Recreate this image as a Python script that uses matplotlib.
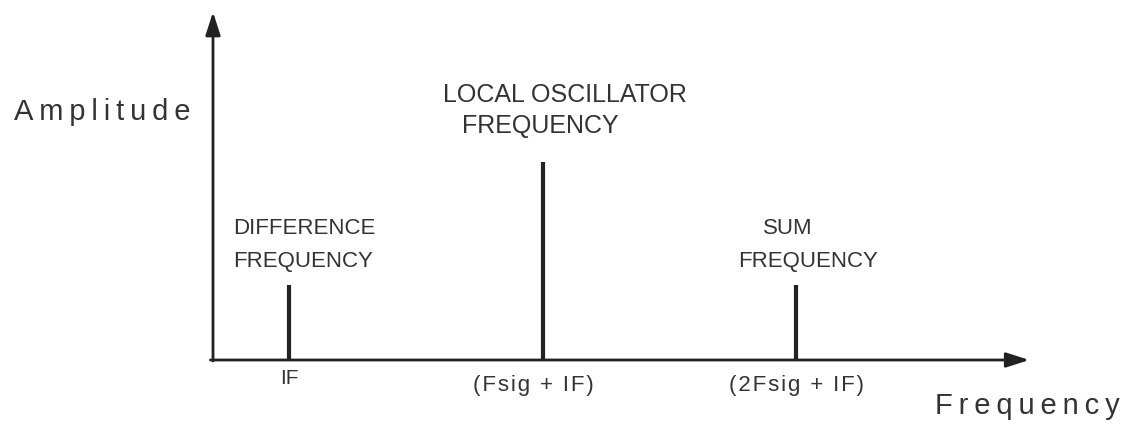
import matplotlib.pyplot as plt

# Spectrum of a mixer output (positions in arbitrary frequency units)
freqs = [0.3, 1.3, 2.3]
amps = [0.75, 1.98, 0.75]
tick_labels = ['IF', '(Fsig + IF)', '(2Fsig + IF)']

plt.rcParams['font.family'] = ['Liberation Sans', 'DejaVu Sans']


def spaced(s, gap='\u2009'):
    # crude letter spacing, the scanned original is quite loose
    return gap.join(s)


fig = plt.figure(figsize=(11.23, 4.25), dpi=100)
ax = fig.add_axes([213 / 1123, 65 / 425, 910 / 1123, 360 / 425])
ax.set_xlim(0, 910 / 253.5)
ax.set_ylim(0, 3.6)
ax.axis('off')

ink = '#222222'
txt = '#333333'

# axes with arrow heads
ax.annotate('', xy=(0, 3.48), xytext=(0, -0.01),
            arrowprops=dict(arrowstyle='-|>,head_length=1.4,head_width=0.45',
                            color=ink, lw=2, shrinkA=0, shrinkB=0))
ax.annotate('', xy=(3.22, 0), xytext=(-0.01, 0),
            arrowprops=dict(arrowstyle='-|>,head_length=1.4,head_width=0.45',
                            color=ink, lw=2, shrinkA=0, shrinkB=0))

# spectral lines
ax.vlines(freqs, 0, amps, color=ink, lw=3)

# tick labels under the lines
ax.text(freqs[0], -0.18, tick_labels[0], ha='center', va='center', fontsize=15, color=txt)
ax.text(freqs[1] - 0.035, -0.26, spaced(tick_labels[1], '\u200a'), ha='center', va='center',
        fontsize=16, color=txt)
ax.text(freqs[2], -0.26, spaced(tick_labels[2], '\u200a'), ha='center', va='center',
        fontsize=16, color=txt)

# peak annotations
ax.text(freqs[0] - 0.22, amps[0] + 0.57, 'DIFFERENCE', ha='left', va='center',
        fontsize=16, color=txt)
ax.text(freqs[0] - 0.22, amps[0] + 0.24, 'FREQUENCY', ha='left', va='center',
        fontsize=16, color=txt)
ax.text(freqs[1] + 0.09, amps[1] + 0.67, 'LOCAL OSCILLATOR', ha='center', va='center',
        fontsize=18, color=txt)
ax.text(freqs[1] - 0.01, amps[1] + 0.36, 'FREQUENCY', ha='center', va='center',
        fontsize=18, color=txt)
ax.text(freqs[2] - 0.13, amps[2] + 0.56, 'SUM', ha='left', va='center',
        fontsize=16, color=txt)
ax.text(freqs[2] - 0.23, amps[2] + 0.23, 'FREQUENCY', ha='left', va='center',
        fontsize=16, color=txt)

# axis titles
fig.text(14 / 1123, 1 - 112 / 425, spaced('Amplitude'), ha='left', va='center',
         fontsize=21, color=txt)
fig.text(1120 / 1123, 1 - 406 / 425, spaced('Frequency'), ha='right', va='center',
         fontsize=21, color=txt)

fig.savefig('out.png', dpi=100)
